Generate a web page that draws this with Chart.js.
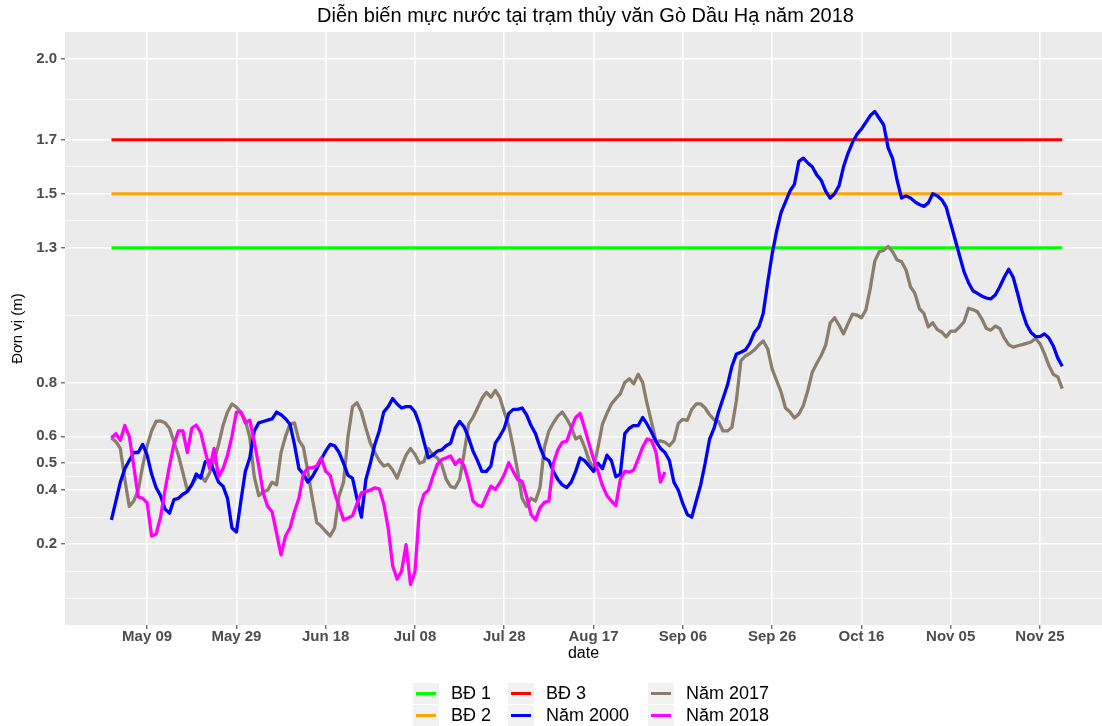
<!DOCTYPE html>
<html>
<head>
<meta charset="utf-8">
<title>Diễn biến mực nước tại trạm thủy văn Gò Dầu Hạ năm 2018</title>
<script src="https://cdn.jsdelivr.net/npm/chart.js@4.4.1/dist/chart.umd.min.js"></script>
<style>
    html, body { margin: 0; padding: 0; background: #ffffff; }
    #wrap { position: relative; width: 1102px; height: 726px; }
    #legend { position: absolute; left: 0; top: 0; width: 1102px; height: 726px; pointer-events: none;
              font-family: "Liberation Sans", Arial, sans-serif; font-size: 18px; color: #000; }
    .item { position: absolute; height: 21px; }
    .key { position: absolute; left: 0; top: 0; width: 26px; height: 21px; background: #F2F2F2; }
    .key span { position: absolute; left: 3px; top: 9px; width: 20px; height: 3px; }
    .label { position: absolute; left: 38px; top: 0; line-height: 21px; white-space: nowrap; }
</style>
</head>
<body>
<div id="wrap">
    <canvas id="chart" width="1102" height="726"></canvas>
    <div id="legend"></div>
</div>
<script>
// x = days since May 01 (day 0) to Nov 30 (day 213)
const tickDays = [8, 28, 48, 68, 88, 108, 128, 148, 168, 188, 208];
const tickLabels = ['May 09', 'May 29', 'Jun 18', 'Jul 08', 'Jul 28', 'Aug 17',
                    'Sep 06', 'Sep 26', 'Oct 16', 'Nov 05', 'Nov 25'];

const yMajor = [0.2, 0.4, 0.5, 0.6, 0.8, 1.3, 1.5, 1.7, 2.0];
const yMinor = [0.0, 0.1, 0.3, 0.45, 0.55, 0.7, 1.05, 1.4, 1.6, 1.85];

// alarm levels (BĐ 1, BĐ 2, BĐ 3)
const alarmNames = ['BĐ 1', 'BĐ 2', 'BĐ 3'];
const alarmLevels = [1.3, 1.5, 1.7];
const alarmSpan = [0, 213];

// daily water levels (m)
const level2000 = [
    0.29, 0.36, 0.43, 0.48, 0.51, 0.54, 0.54, 0.57, 0.53, 0.46,
    0.41, 0.38, 0.33, 0.315, 0.365, 0.37, 0.385, 0.395, 0.42, 0.46,
    0.445, 0.505, 0.51, 0.47, 0.43, 0.415, 0.37, 0.26, 0.245, 0.36,
    0.47, 0.52, 0.62, 0.65, 0.655, 0.66, 0.665, 0.69, 0.68, 0.665,
    0.645, 0.57, 0.48, 0.46, 0.43, 0.45, 0.48, 0.515, 0.545, 0.57,
    0.565, 0.54, 0.5, 0.455, 0.445, 0.37, 0.3, 0.44, 0.5, 0.57,
    0.62, 0.69, 0.71, 0.74, 0.72, 0.705, 0.71, 0.71, 0.69, 0.645,
    0.58, 0.52, 0.53, 0.545, 0.55, 0.565, 0.575, 0.63, 0.655, 0.635,
    0.595, 0.545, 0.51, 0.47, 0.47, 0.49, 0.575, 0.6, 0.63, 0.685,
    0.7, 0.7, 0.705, 0.68, 0.64, 0.61, 0.56, 0.52, 0.51, 0.47,
    0.44, 0.42, 0.41, 0.43, 0.47, 0.52, 0.51, 0.49, 0.47, 0.5,
    0.48, 0.53, 0.51, 0.45, 0.46, 0.61, 0.63, 0.64, 0.64, 0.67,
    0.645, 0.615, 0.58, 0.555, 0.54, 0.51, 0.43, 0.4, 0.35, 0.31,
    0.3, 0.36, 0.42, 0.5, 0.59, 0.63, 0.69, 0.74, 0.79, 0.86,
    0.905, 0.912, 0.92, 0.945, 0.985, 1.005, 1.056, 1.17, 1.275, 1.36,
    1.43, 1.47, 1.51, 1.535, 1.62, 1.632, 1.614, 1.6, 1.57, 1.55,
    1.51, 1.484, 1.5, 1.53, 1.6, 1.65, 1.69, 1.72, 1.74, 1.765,
    1.79, 1.805, 1.78, 1.755, 1.67, 1.63, 1.55, 1.484, 1.492, 1.484,
    1.47, 1.46, 1.453, 1.466, 1.5, 1.492, 1.478, 1.45, 1.39, 1.33,
    1.27, 1.21, 1.17, 1.14, 1.13, 1.12, 1.113, 1.11, 1.124, 1.155,
    1.19, 1.22, 1.19, 1.13, 1.065, 1.015, 0.985, 0.97, 0.97, 0.98,
    0.965, 0.935, 0.89, 0.86
];

const level2017 = [
    0.595, 0.58, 0.555, 0.44, 0.34, 0.36, 0.4, 0.49, 0.565, 0.62,
    0.655, 0.657, 0.65, 0.63, 0.58, 0.53, 0.465, 0.4, 0.42, 0.445,
    0.455, 0.433, 0.465, 0.51, 0.57, 0.64, 0.69, 0.72, 0.708, 0.69,
    0.66, 0.595, 0.45, 0.38, 0.394, 0.4, 0.43, 0.42, 0.54, 0.6,
    0.645, 0.65, 0.585, 0.56, 0.47, 0.37, 0.28, 0.266, 0.247, 0.23,
    0.26, 0.38, 0.43, 0.6, 0.71, 0.725, 0.69, 0.63, 0.575, 0.54,
    0.51, 0.49, 0.496, 0.475, 0.445, 0.49, 0.53, 0.555, 0.533, 0.5,
    0.506, 0.555, 0.53, 0.52, 0.495, 0.44, 0.413, 0.409, 0.44, 0.535,
    0.645, 0.67, 0.705, 0.74, 0.763, 0.745, 0.77, 0.744, 0.69, 0.64,
    0.56, 0.47, 0.37, 0.34, 0.37, 0.36, 0.41, 0.56, 0.62, 0.65,
    0.675, 0.69, 0.665, 0.634, 0.59, 0.6, 0.56, 0.51, 0.48, 0.56,
    0.645, 0.685, 0.72, 0.74, 0.758, 0.8, 0.814, 0.795, 0.83, 0.8,
    0.72, 0.652, 0.58, 0.583, 0.578, 0.565, 0.584, 0.648, 0.663, 0.659,
    0.7, 0.72, 0.72, 0.705, 0.68, 0.662, 0.655, 0.62, 0.62, 0.634,
    0.733, 0.88, 0.898, 0.907, 0.92, 0.938, 0.954, 0.925, 0.85, 0.807,
    0.765, 0.705, 0.69, 0.668, 0.683, 0.714, 0.77, 0.838, 0.87, 0.9,
    0.938, 1.02, 1.04, 1.012, 0.98, 1.018, 1.053, 1.05, 1.04, 1.068,
    1.15, 1.25, 1.285, 1.29, 1.304, 1.285, 1.254, 1.248, 1.217, 1.155,
    1.13, 1.074, 1.056, 1.006, 1.021, 0.996, 0.987, 0.969, 0.99, 0.99,
    1.006, 1.025, 1.075, 1.07, 1.062, 1.035, 1.0, 0.994, 1.009, 1.0,
    0.965, 0.94, 0.931, 0.936, 0.94, 0.945, 0.95, 0.963, 0.944, 0.907,
    0.863, 0.83, 0.82, 0.777
];

const level2018 = [
    0.595, 0.61, 0.585, 0.64, 0.6, 0.49, 0.375, 0.37, 0.353, 0.23,
    0.237, 0.3, 0.4, 0.49, 0.57, 0.62, 0.62, 0.54, 0.63, 0.642,
    0.614, 0.545, 0.48, 0.555, 0.45, 0.48, 0.53, 0.6, 0.69, 0.69,
    0.65, 0.66, 0.58, 0.49, 0.39, 0.34, 0.32, 0.24, 0.16, 0.23,
    0.26, 0.32, 0.37, 0.46, 0.483, 0.483, 0.49, 0.52, 0.47, 0.455,
    0.39, 0.34, 0.29, 0.297, 0.305, 0.35, 0.39, 0.396, 0.4, 0.409,
    0.405, 0.35, 0.26, 0.12, 0.07, 0.1, 0.198, 0.05, 0.098, 0.33,
    0.385, 0.4, 0.45, 0.496, 0.514, 0.52, 0.527, 0.496, 0.514, 0.49,
    0.433, 0.36, 0.345, 0.34, 0.378, 0.415, 0.403, 0.427, 0.458, 0.502,
    0.47, 0.44, 0.433, 0.378, 0.31, 0.29, 0.335, 0.355, 0.36, 0.5,
    0.55, 0.578, 0.582, 0.63, 0.67, 0.685, 0.63, 0.572, 0.516, 0.47,
    0.417, 0.38, 0.36, 0.343, 0.44, 0.47, 0.467, 0.475, 0.516, 0.56,
    0.59, 0.584, 0.54, 0.43, 0.467
];

const FONT = '"Liberation Sans", Arial, sans-serif';
const TITLE = 'Diễn biến mực nước tại trạm thủy văn Gò Dầu Hạ năm 2018';

const alarmColors = ['#00FF00', '#FFA500', '#FF0000'];
const seriesNames = ['Năm 2000', 'Năm 2017', 'Năm 2018'];
const seriesColors = ['#0000FF', '#8B7D6B', '#FF00FF'];

const toPoints = arr => arr.map((v, i) => ({ x: i, y: v }));
const yGrid = yMajor.concat(yMinor).sort((a, b) => a - b);
const isMajor = v => yMajor.includes(v);

function lineSet(label, data, color, width) {
    return {
        label: label,
        data: data,
        borderColor: color,
        backgroundColor: color,
        borderWidth: width,
        pointRadius: 0,
        tension: 0,
        fill: false,
        borderJoinStyle: 'round'
    };
}

const datasets = [
    lineSet(seriesNames[2], toPoints(level2018), seriesColors[2], 3.3),
    lineSet(seriesNames[0], toPoints(level2000), seriesColors[0], 3.3),
    lineSet(seriesNames[1], toPoints(level2017), seriesColors[1], 3.3)
];
alarmLevels.forEach((lv, i) => {
    datasets.push(lineSet(alarmNames[i], alarmSpan.map(d => ({ x: d, y: lv })), alarmColors[i], 3));
});

// grey panel like ggplot
const panelBg = {
    id: 'panelBg',
    beforeDraw(chart) {
        const a = chart.chartArea;
        const c = chart.ctx;
        c.save();
        c.fillStyle = '#EBEBEB';
        c.fillRect(a.left, a.top, a.right - a.left, a.bottom - a.top);
        c.restore();
    }
};

// title centred over the plotted dates
const panelTitle = {
    id: 'panelTitle',
    afterDraw(chart) {
        const a = chart.chartArea;
        const c = chart.ctx;
        c.save();
        c.font = '20px ' + FONT;
        c.fillStyle = '#000000';
        c.textAlign = 'center';
        c.textBaseline = 'middle';
        c.fillText(TITLE, (a.left + a.right) / 2 + 2, 16);
        c.restore();
    }
};

new Chart(document.getElementById('chart'), {
    type: 'line',
    data: { datasets: datasets },
    plugins: [panelBg, panelTitle],
    options: {
        responsive: false,
        animation: false,
        layout: { padding: { left: 0, right: 0, top: 32, bottom: 61 } },
        plugins: {
            legend: { display: false },
            title: { display: false },
            tooltip: { enabled: false }
        },
        scales: {
            x: {
                type: 'linear',
                min: -10.4,
                max: 221.9,
                afterBuildTicks: s => { s.ticks = tickDays.map(v => ({ value: v })); },
                afterFit: s => { s.height = 40; },
                border: { display: false },
                grid: { color: '#FFFFFF', lineWidth: 1.6, tickLength: 4, tickColor: '#333333', tickWidth: 1 },
                ticks: {
                    autoSkip: false,
                    maxRotation: 0,
                    padding: 0,
                    color: '#4D4D4D',
                    font: { family: FONT, size: 15, weight: 'bold', lineHeight: 1 },
                    callback: (v, i) => tickLabels[i]
                },
                title: {
                    display: true,
                    text: 'date',
                    color: '#000000',
                    font: { family: FONT, size: 16 },
                    padding: { top: 0, bottom: 2 }
                }
            },
            y: {
                type: 'linear',
                min: -0.1,
                max: 2.1,
                afterBuildTicks: s => { s.ticks = yGrid.map(v => ({ value: v })); },
                afterFit: s => { s.width = 65; },
                border: { display: false },
                grid: {
                    color: '#FFFFFF',
                    lineWidth: ctx => isMajor(ctx.tick.value) ? 1.6 : 0.8,
                    tickLength: 4,
                    tickColor: ctx => isMajor(ctx.tick.value) ? '#333333' : 'rgba(0,0,0,0)',
                    tickWidth: 1
                },
                ticks: {
                    autoSkip: false,
                    padding: 4,
                    color: '#4D4D4D',
                    font: { family: FONT, size: 15, weight: 'bold' },
                    callback: v => isMajor(v) ? v.toFixed(1) : ''
                },
                title: {
                    display: true,
                    text: 'Đơn vị (m)',
                    color: '#000000',
                    font: { family: FONT, size: 15 },
                    padding: { top: 9, bottom: 0 }
                }
            }
        }
    }
});

// legend, filled by column like ggplot
const legendItems = [
    { name: alarmNames[0], color: alarmColors[0], left: 413, top: 683 },
    { name: alarmNames[1], color: alarmColors[1], left: 413, top: 705 },
    { name: alarmNames[2], color: alarmColors[2], left: 508, top: 683 },
    { name: seriesNames[0], color: seriesColors[0], left: 508, top: 705 },
    { name: seriesNames[1], color: seriesColors[1], left: 648, top: 683 },
    { name: seriesNames[2], color: seriesColors[2], left: 648, top: 705 }
];
const legendEl = document.getElementById('legend');
legendItems.forEach(it => {
    const d = document.createElement('div');
    d.className = 'item';
    d.style.left = it.left + 'px';
    d.style.top = it.top + 'px';
    d.innerHTML = '<div class="key"><span style="background:' + it.color + '"></span></div>' +
                  '<div class="label">' + it.name + '</div>';
    legendEl.appendChild(d);
});
</script>
</body>
</html>
